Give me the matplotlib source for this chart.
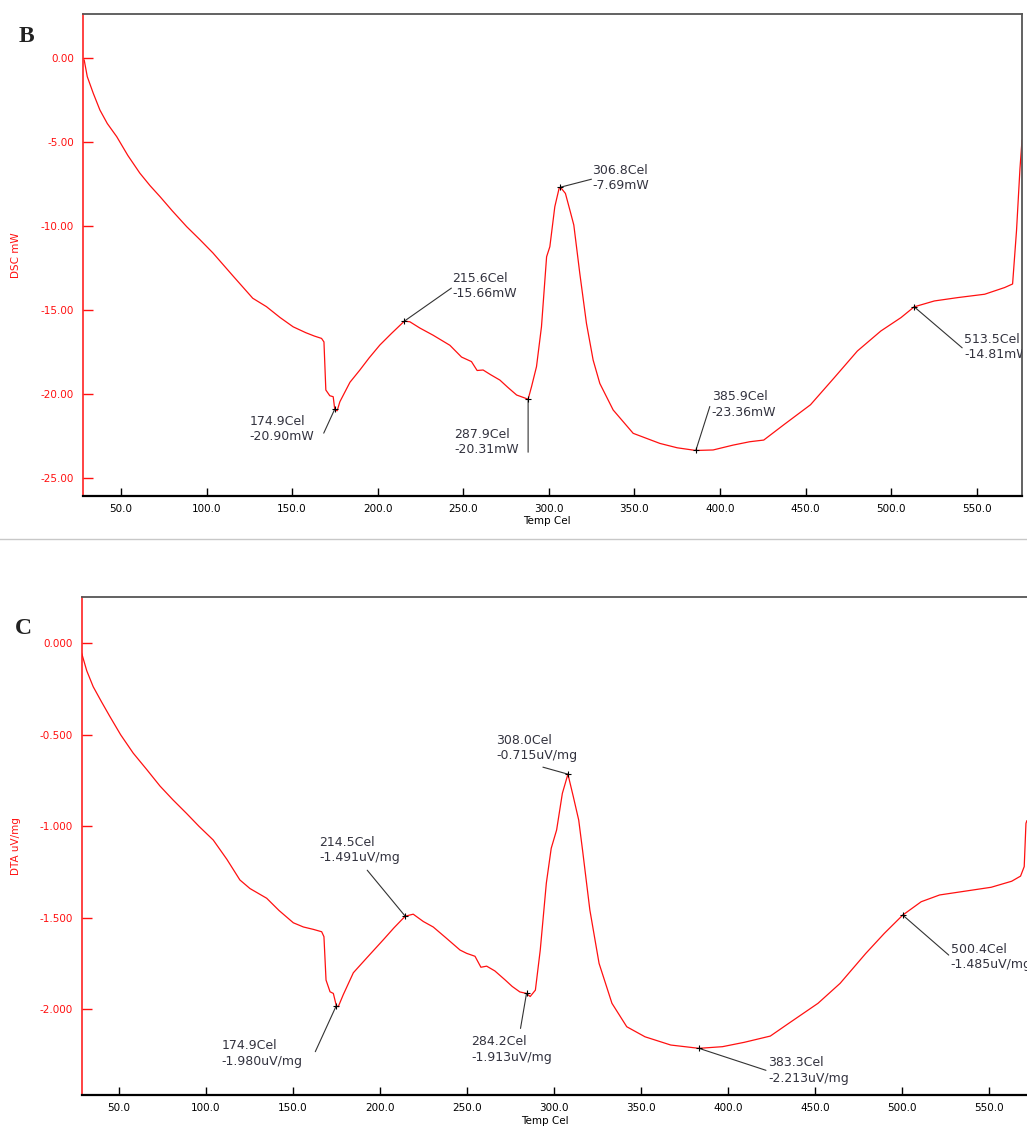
import numpy as np
import matplotlib
matplotlib.use('Agg')
from matplotlib import pyplot as plt
from matplotlib.ticker import FormatStrFormatter
from matplotlib.lines import Line2D


# DSC trace (panel B): temperature in Cel, heat flow in mW
dsc_temp = [28.5, 30.3, 33.8, 37.7, 42.0, 47.5, 54.0, 61.0, 67.0, 72.8, 80.0, 88.4,
            96.0, 103.7, 115.7, 127.0, 135.0, 143.0, 150.6, 158.0, 163.0, 167.2,
            168.6, 169.7, 172.0, 174.0, 174.9, 176.3, 177.9, 183.8, 189.6, 195.0,
            201.3, 208.0, 215.6, 218.8, 224.6, 232.4, 242.2, 249.0, 254.8, 258.1,
            261.6, 266.0, 271.4, 276.0, 281.2, 285.0, 287.9, 289.9, 292.8, 295.7,
            298.7, 300.6, 303.5, 306.0, 306.8, 309.7, 312.3, 314.6, 318.1, 322.0,
            325.9, 329.8, 337.6, 349.3, 364.9, 375.0, 385.9, 396.0, 407.7, 417.4,
            425.6, 437.3, 452.9, 466.7, 480.3, 494.0, 505.8, 513.5, 525.3, 539.0,
            554.7, 566.4, 571.0, 573.3, 575.3, 576.5]
dsc_mw = [-0.12, -1.11, -2.1, -3.1, -3.9, -4.68, -5.8, -6.85, -7.6, -8.25, -9.1, -10.04,
          -10.8, -11.6, -13.0, -14.3, -14.8, -15.45, -16.0, -16.35, -16.55, -16.69,
          -16.9, -19.76, -20.1, -20.16, -20.90, -21.0, -20.46, -19.3, -18.57, -17.85,
          -17.08, -16.4, -15.66, -15.7, -16.07, -16.5, -17.1, -17.8, -18.07, -18.6,
          -18.57, -18.85, -19.17, -19.6, -20.06, -20.2, -20.31, -19.56, -18.37, -16.0,
          -11.83, -11.23, -8.85, -7.76, -7.69, -8.06, -9.05, -9.94, -12.82, -15.8,
          -17.98, -19.37, -20.95, -22.34, -22.94, -23.2, -23.36, -23.33, -23.04, -22.84,
          -22.74, -21.83, -20.64, -19.04, -17.44, -16.25, -15.45, -14.81, -14.46, -14.26,
          -14.06, -13.66, -13.45, -10.27, -6.6, -4.9]

# DTA trace (panel C): temperature in Cel, signal in uV/mg
dta_temp = [28.6, 31.5, 35.2, 40.0, 44.8, 51.0, 58.2, 66.0, 73.6, 81.0, 88.9, 96.0,
            104.2, 112.0, 119.5, 125.3, 134.9, 142.0, 150.2, 156.0, 161.7, 166.5,
            167.8, 169.0, 171.3, 173.2, 174.9, 176.0, 178.9, 184.7, 192.3, 201.9,
            208.0, 214.5, 219.1, 224.9, 230.6, 238.0, 246.0, 249.8, 254.6, 258.0,
            261.3, 266.0, 272.0, 276.0, 280.4, 284.2, 286.3, 289.3, 292.1, 295.6,
            298.4, 301.5, 304.8, 308.0, 311.1, 314.2, 316.4, 320.6, 325.9, 333.3,
            341.8, 352.3, 367.1, 383.3, 396.8, 409.4, 424.3, 434.8, 451.7, 464.4,
            479.2, 489.8, 500.4, 511.0, 521.6, 536.4, 551.2, 563.0, 568.1, 570.2,
            571.2, 571.7]
dta_uv = [-0.055, -0.15, -0.237, -0.32, -0.40, -0.50, -0.60, -0.69, -0.78, -0.855, -0.93, -1.0,
          -1.075, -1.18, -1.293, -1.34, -1.393, -1.46, -1.527, -1.55, -1.563, -1.576,
          -1.603, -1.84, -1.904, -1.913, -1.980, -1.986, -1.92, -1.80, -1.72, -1.62,
          -1.555, -1.491, -1.48, -1.52, -1.55, -1.61, -1.676, -1.694, -1.71, -1.77,
          -1.764, -1.79, -1.84, -1.875, -1.905, -1.913, -1.93, -1.895, -1.676, -1.31,
          -1.12, -1.02, -0.82, -0.715, -0.838, -0.966, -1.13, -1.457, -1.749, -1.967,
          -2.095, -2.15, -2.195, -2.213, -2.204, -2.18, -2.146, -2.077, -1.967, -1.858,
          -1.694, -1.585, -1.485, -1.412, -1.375, -1.354, -1.333, -1.30, -1.272, -1.22,
          -0.984, -0.97]

# marked peaks
dsc_peak_t = [174.9, 215.6, 287.9, 306.8, 385.9, 513.5]
dsc_peak_v = [-20.90, -15.66, -20.31, -7.69, -23.36, -14.81]
dta_peak_t = [174.9, 214.5, 284.2, 308.0, 383.3, 500.4]
dta_peak_v = [-1.980, -1.491, -1.913, -0.715, -2.213, -1.485]

# (text dx, dy, leader dx, dy) in pixels from the marked point
dsc_offsets = [(-85, -20, -11, -24), (48, 35, 47, 33), (-74, -43, 0, -53),
               (32, 9, 31, 8), (16, 46, 14, 44), (50, -40, 48, -41)]
dta_offsets = [(-115, -48, -21, -46), (-86, 66, -38, 46), (-55, -56, -6, -35),
               (-72, 26, -25, 7), (69, -22, 67, -22), (48, -42, 46, -40)]

W, H = 1027.0, 1130.0
RED = '#ff1010'
TXT = '#33333f'


def styleAxes(ax, yfmt):
    ax.spines['left'].set_color(RED)
    ax.spines['left'].set_linewidth(1.1)
    ax.spines['bottom'].set_color('black')
    ax.spines['bottom'].set_linewidth(1.6)
    ax.spines['top'].set_color('#555555')
    ax.spines['top'].set_linewidth(1.3)
    ax.spines['right'].set_color('#555555')
    ax.spines['right'].set_linewidth(1.3)
    ax.tick_params(axis='y', direction='in', length=7, width=1.0, colors=RED,
                   labelsize=7.5, pad=6.5)
    ax.tick_params(axis='x', direction='in', length=5.8, width=1.0, colors='black',
                   labelsize=7.5, pad=6)
    ax.yaxis.set_major_formatter(FormatStrFormatter(yfmt))
    ax.xaxis.set_major_formatter(FormatStrFormatter('%.1f'))
    ax.set_xticks(np.arange(50, 551, 50))


def markPeaks(ax, temps, vals, units, fmt, offsets):
    for t, v, off in zip(temps, vals, offsets):
        tx, ty, lx, ly = off
        ax.plot(t, v, marker='+', color='black', markersize=4, markeredgewidth=0.8,
                zorder=4)
        ax.annotate('', xy=(t, v), xytext=(lx, ly), textcoords='offset pixels',
                    arrowprops=dict(arrowstyle='-', color='#333333', lw=0.8,
                                    shrinkA=0, shrinkB=0))
        label = '%.1fCel\n' % t + fmt % v + units
        ax.annotate(label, xy=(t, v), xytext=(tx, ty), textcoords='offset pixels',
                    ha='left', va='center', fontsize=9, color=TXT,
                    linespacing=1.25, annotation_clip=False, clip_on=True)


fig = plt.figure(figsize=(W / 100, H / 100), dpi=100)

# panel B: DSC
axB = fig.add_axes([83 / W, 1 - 496 / H, (1022 - 83) / W, (496 - 14) / H])
axB.plot(dsc_temp, dsc_mw, color=RED, lw=0.9)
axB.set_xlim(27.8, 576.5)
axB.set_ylim(-26.07, 2.62)
axB.set_yticks([0, -5, -10, -15, -20, -25])
styleAxes(axB, '%.2f')
markPeaks(axB, dsc_peak_t, dsc_peak_v, 'mW', '%.2f', dsc_offsets)
axB.set_xlabel('Temp Cel', fontsize=7.5)
axB.xaxis.set_label_coords(0.494, -0.041)
axB.set_ylabel('DSC mW', fontsize=7.5, color=RED)
axB.yaxis.set_label_coords(-0.066, 0.5)

# panel C: DTA
axC = fig.add_axes([81.7 / W, 1 - 1095 / H, (1027 - 81.7) / W, (1095 - 597) / H])
axC.plot(dta_temp, dta_uv, color=RED, lw=0.9)
axC.set_xlim(28.6, 571.8)
axC.set_ylim(-2.468, 0.253)
axC.set_yticks([0, -0.5, -1.0, -1.5, -2.0])
styleAxes(axC, '%.3f')
axC.spines['right'].set_visible(False)
markPeaks(axC, dta_peak_t, dta_peak_v, 'uV/mg', '%.3f', dta_offsets)
axC.set_xlabel('Temp Cel', fontsize=7.5)
axC.xaxis.set_label_coords(0.49, -0.042)
axC.set_ylabel('DTA uV/mg', fontsize=7.5, color=RED)
axC.yaxis.set_label_coords(-0.064, 0.5)

# separator between the two panels
fig.add_artist(Line2D([0, 1], [1 - 539 / H, 1 - 539 / H], color='#c8c8c8', lw=1.0))

fig.text(26 / W, 1 - 37 / H, 'B', fontsize=17, fontweight='bold',
         family='Liberation Serif', color='#222222', ha='center', va='center')
fig.text(23 / W, 1 - 628 / H, 'C', fontsize=17, fontweight='bold',
         family='Liberation Serif', color='#222222', ha='center', va='center')

fig.savefig('out.png', dpi=100)
